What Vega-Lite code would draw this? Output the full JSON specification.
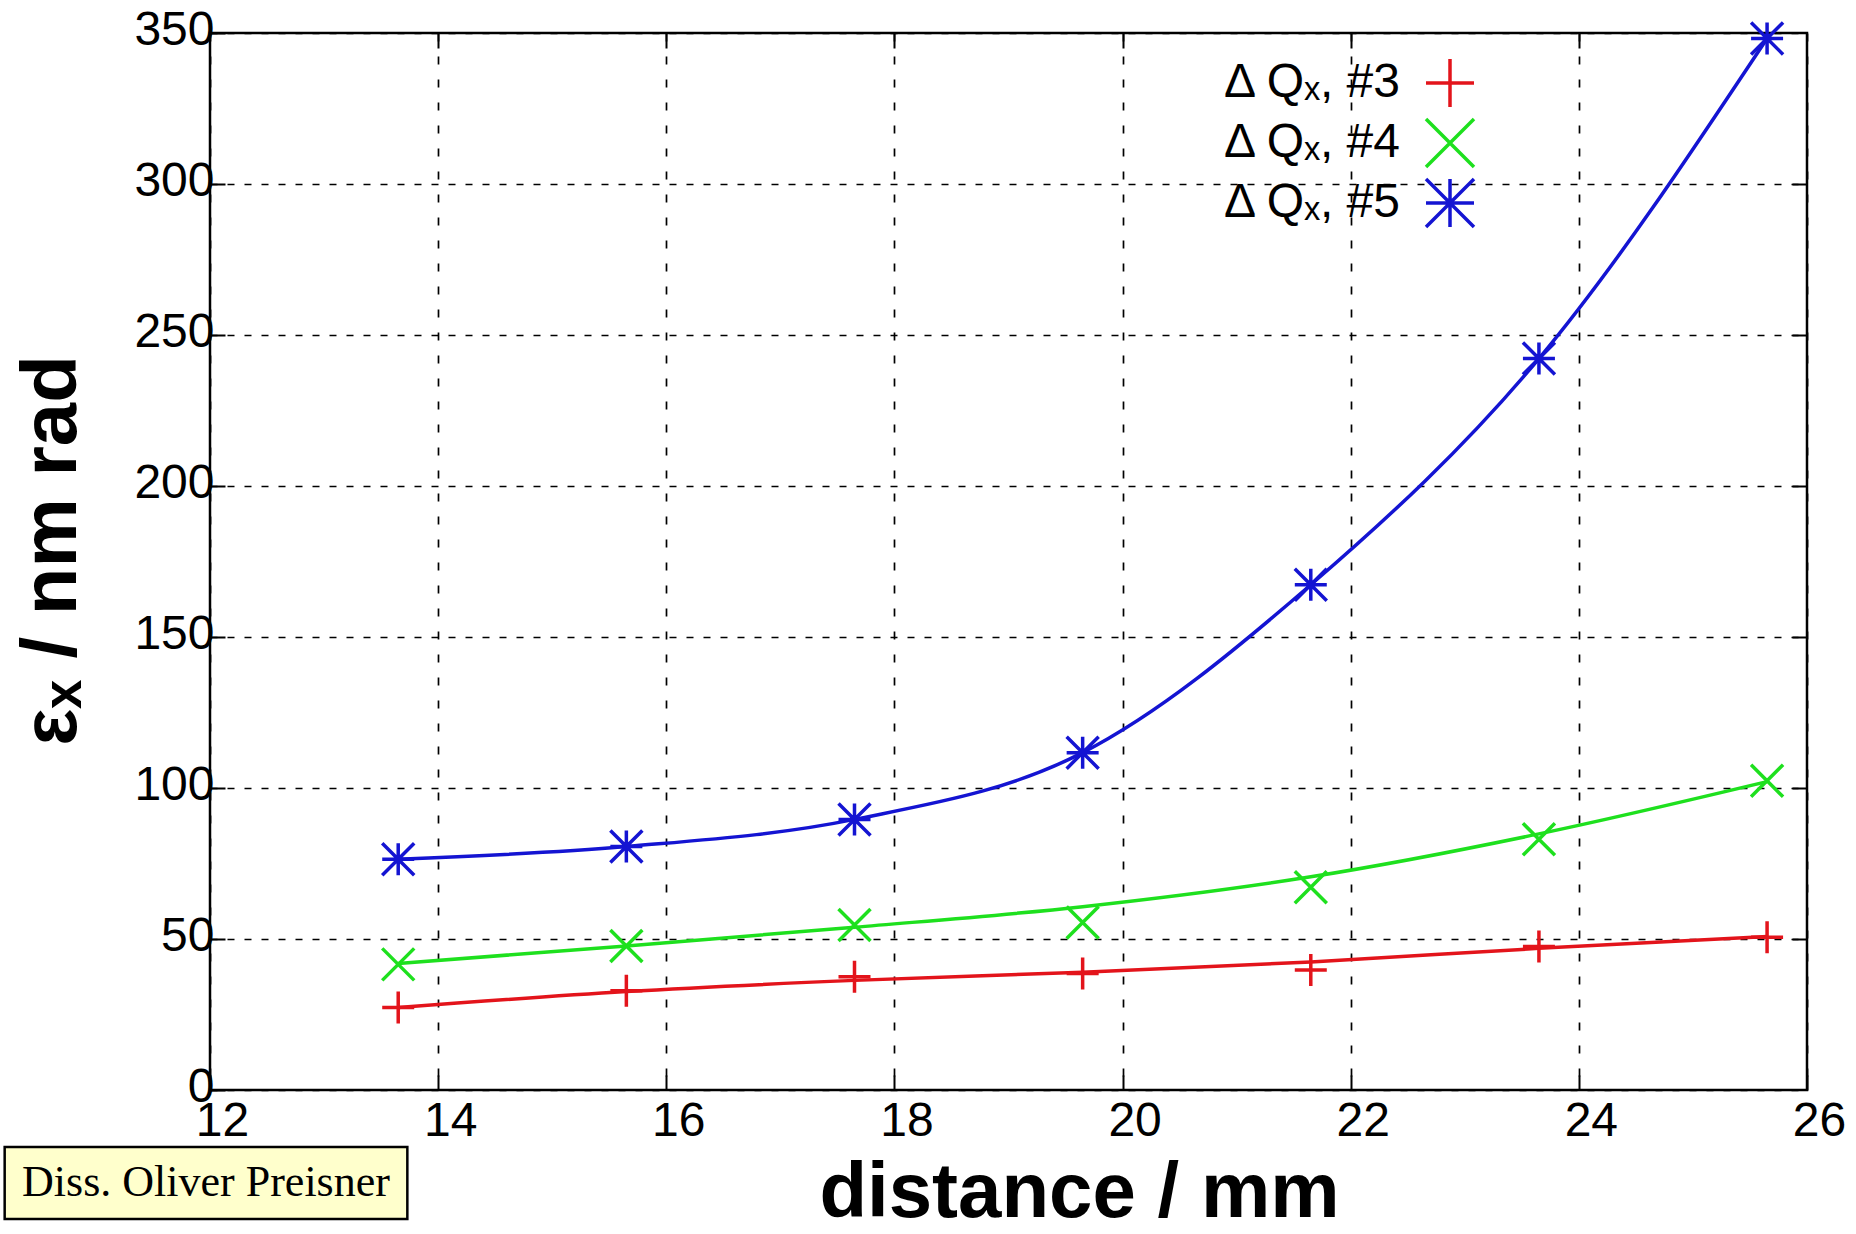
{
  "$schema": "https://vega.github.io/schema/vega-lite/v6.json",
  "width": 1597,
  "height": 1057,
  "autosize": {"type": "none"},
  "padding": {"left": 210, "top": 33, "right": 49, "bottom": 144},
  "background": "white",
  "config": {
    "font": "Liberation Sans",
    "view": {"stroke": "black", "strokeWidth": 2.5},
    "axis": {
      "domain": false,
      "grid": true,
      "gridColor": "black",
      "gridOpacity": 1,
      "gridWidth": 1.7,
      "ticks": true,
      "tickColor": "black",
      "tickWidth": 2,
      "tickSize": -15,
      "labelFont": "Liberation Sans",
      "labelFontSize": 48,
      "labelColor": "black",
      "titleFont": "Liberation Sans",
      "titleFontWeight": "bold",
      "titleColor": "black"
    },
    "axisX": {"gridDash": [8, 15]},
    "axisY": {"gridDash": [7, 10]}
  },
  "resolve": {"axis": {"x": "independent", "y": "independent"}},
  "datasets": {
    "pts": [
      {"d": 13.65, "e": 27.3, "s": "Δ Qₓ, #3"},
      {"d": 15.65, "e": 32.9, "s": "Δ Qₓ, #3"},
      {"d": 17.65, "e": 37.5, "s": "Δ Qₓ, #3"},
      {"d": 19.65, "e": 38.6, "s": "Δ Qₓ, #3"},
      {"d": 21.65, "e": 39.7, "s": "Δ Qₓ, #3"},
      {"d": 23.65, "e": 47.5, "s": "Δ Qₓ, #3"},
      {"d": 25.65, "e": 50.6, "s": "Δ Qₓ, #3"},
      {"d": 13.65, "e": 41.6, "s": "Δ Qₓ, #4"},
      {"d": 15.65, "e": 47.7, "s": "Δ Qₓ, #4"},
      {"d": 17.65, "e": 54.6, "s": "Δ Qₓ, #4"},
      {"d": 19.65, "e": 55.5, "s": "Δ Qₓ, #4"},
      {"d": 21.65, "e": 67.1, "s": "Δ Qₓ, #4"},
      {"d": 23.65, "e": 83.0, "s": "Δ Qₓ, #4"},
      {"d": 25.65, "e": 102.4, "s": "Δ Qₓ, #4"},
      {"d": 13.65, "e": 76.4, "s": "Δ Qₓ, #5"},
      {"d": 15.65, "e": 80.6, "s": "Δ Qₓ, #5"},
      {"d": 17.65, "e": 89.6, "s": "Δ Qₓ, #5"},
      {"d": 19.65, "e": 111.7, "s": "Δ Qₓ, #5"},
      {"d": 21.65, "e": 167.3, "s": "Δ Qₓ, #5"},
      {"d": 23.65, "e": 242.2, "s": "Δ Qₓ, #5"},
      {"d": 25.65, "e": 348.2, "s": "Δ Qₓ, #5"}
    ],
    "fit": [
      {"d": 13.65, "e": 27.3, "k": "fit 3"},
      {"d": 15.65, "e": 32.6, "k": "fit 3"},
      {"d": 17.65, "e": 36.3, "k": "fit 3"},
      {"d": 19.65, "e": 39.0, "k": "fit 3"},
      {"d": 21.65, "e": 42.4, "k": "fit 3"},
      {"d": 23.65, "e": 46.9, "k": "fit 3"},
      {"d": 25.65, "e": 50.8, "k": "fit 3"},
      {"d": 13.65, "e": 41.9, "k": "fit 4"},
      {"d": 15.65, "e": 47.7, "k": "fit 4"},
      {"d": 17.65, "e": 53.9, "k": "fit 4"},
      {"d": 19.65, "e": 60.7, "k": "fit 4"},
      {"d": 21.65, "e": 70.6, "k": "fit 4"},
      {"d": 23.65, "e": 84.8, "k": "fit 4"},
      {"d": 25.65, "e": 102.1, "k": "fit 4"},
      {"d": 13.65, "e": 76.4, "k": "fit 5"},
      {"d": 15.65, "e": 80.6, "k": "fit 5"},
      {"d": 17.65, "e": 89.6, "k": "fit 5"},
      {"d": 19.65, "e": 111.7, "k": "fit 5"},
      {"d": 21.65, "e": 167.3, "k": "fit 5"},
      {"d": 23.65, "e": 242.2, "k": "fit 5"},
      {"d": 25.65, "e": 348.2, "k": "fit 5"}
    ]
  },
  "layer": [
    {
      "data": {"name": "fit"},
      "mark": {"type": "line", "strokeWidth": 3.5, "interpolate": "monotone"},
      "encoding": {
        "x": {
          "field": "d", "type": "quantitative",
          "scale": {"domain": [12, 26], "nice": false, "zero": false},
          "axis": {
            "values": [12, 14, 16, 18, 20, 22, 24, 26],
            "format": "d",
            "labelFlush": false,
            "labelOffset": 12,
            "labelPadding": 22,
            "labelBaseline": "top",
            "title": "distance / mm",
            "titleFontSize": 78,
            "titleX": 869,
            "titleY": 126,
            "titleAnchor": null,
            "titleAlign": "center",
            "titleBaseline": "alphabetic"
          }
        },
        "y": {
          "field": "e", "type": "quantitative",
          "scale": {"domain": [0, 350], "nice": false, "zero": true},
          "axis": {
            "values": [0, 50, 100, 150, 200, 250, 300, 350],
            "format": "d",
            "labelFlush": false,
            "labelPadding": 11,
            "labelOffset": -3,
            "title": "εₓ / nm rad",
            "titleFontSize": 78,
            "titleAngle": -90,
            "titleX": -135,
            "titleY": 517,
            "titleAlign": "center",
            "titleBaseline": "alphabetic"
          }
        },
        "stroke": {
          "field": "k", "type": "nominal",
          "scale": {"range": ["#e3141b", "#1ee01e", "#1414d2"]},
          "legend": null
        }
      }
    },
    {
      "data": {"name": "pts"},
      "mark": {"type": "point", "filled": false, "strokeWidth": 3.5, "size": 1024, "opacity": 1},
      "encoding": {
        "x": {"field": "d", "type": "quantitative", "axis": null},
        "y": {"field": "e", "type": "quantitative", "axis": null},
        "color": {
          "field": "s", "type": "nominal",
          "scale": {"domain": ["Δ Qₓ, #3", "Δ Qₓ, #4", "Δ Qₓ, #5"], "range": ["#e3141b", "#1ee01e", "#1414d2"]},
          "legend": {
            "title": null,
            "orient": "none",
            "legendX": 1214,
            "legendY": 24,
            "labelAlign": "right",
            "labelOffset": -76,
            "symbolOffset": 0,
            "symbolSize": 2304,
            "symbolStrokeWidth": 3.5,
            "labelFont": "Liberation Sans",
            "labelFontSize": 48,
            "labelColor": "black",
            "labelLimit": 600,
            "rowPadding": -2,
            "padding": 0
          }
        },
        "shape": {
          "field": "s", "type": "nominal",
          "scale": {"domain": ["Δ Qₓ, #3", "Δ Qₓ, #4", "Δ Qₓ, #5"], "range": ["M-1,0L1,0M0,-1L0,1", "M-1,-1L1,1M-1,1L1,-1", "M-1,0L1,0M0,-1L0,1M-1,-1L1,1M-1,1L1,-1"]}
        }
      }
    },
    {
      "data": {"values": [{}]},
      "mark": {"type": "rect", "fill": "#ffffcc", "stroke": "black", "strokeWidth": 2.5},
      "encoding": {
        "x": {
          "datum": 10.2, "type": "quantitative",
          "axis": {"orient": "top", "values": [14, 16, 18, 20, 22, 24], "labels": false, "grid": false, "title": null, "domain": false, "tickSize": -15}
        },
        "x2": {"datum": 13.73},
        "y": {
          "datum": -18.9, "type": "quantitative",
          "axis": {"orient": "right", "values": [50, 100, 150, 200, 250, 300], "labels": false, "grid": false, "title": null, "domain": false, "tickSize": -15}
        },
        "y2": {"datum": -42.7}
      }
    },
    {
      "data": {"values": [{}]},
      "mark": {"type": "text", "font": "Liberation Serif", "fontSize": 44, "align": "center", "baseline": "middle", "color": "black", "text": "Diss. Oliver Preisner"},
      "encoding": {
        "x": {"datum": 11.965, "type": "quantitative", "axis": null},
        "y": {"datum": -30.8, "type": "quantitative", "axis": null}
      }
    }
  ]
}
